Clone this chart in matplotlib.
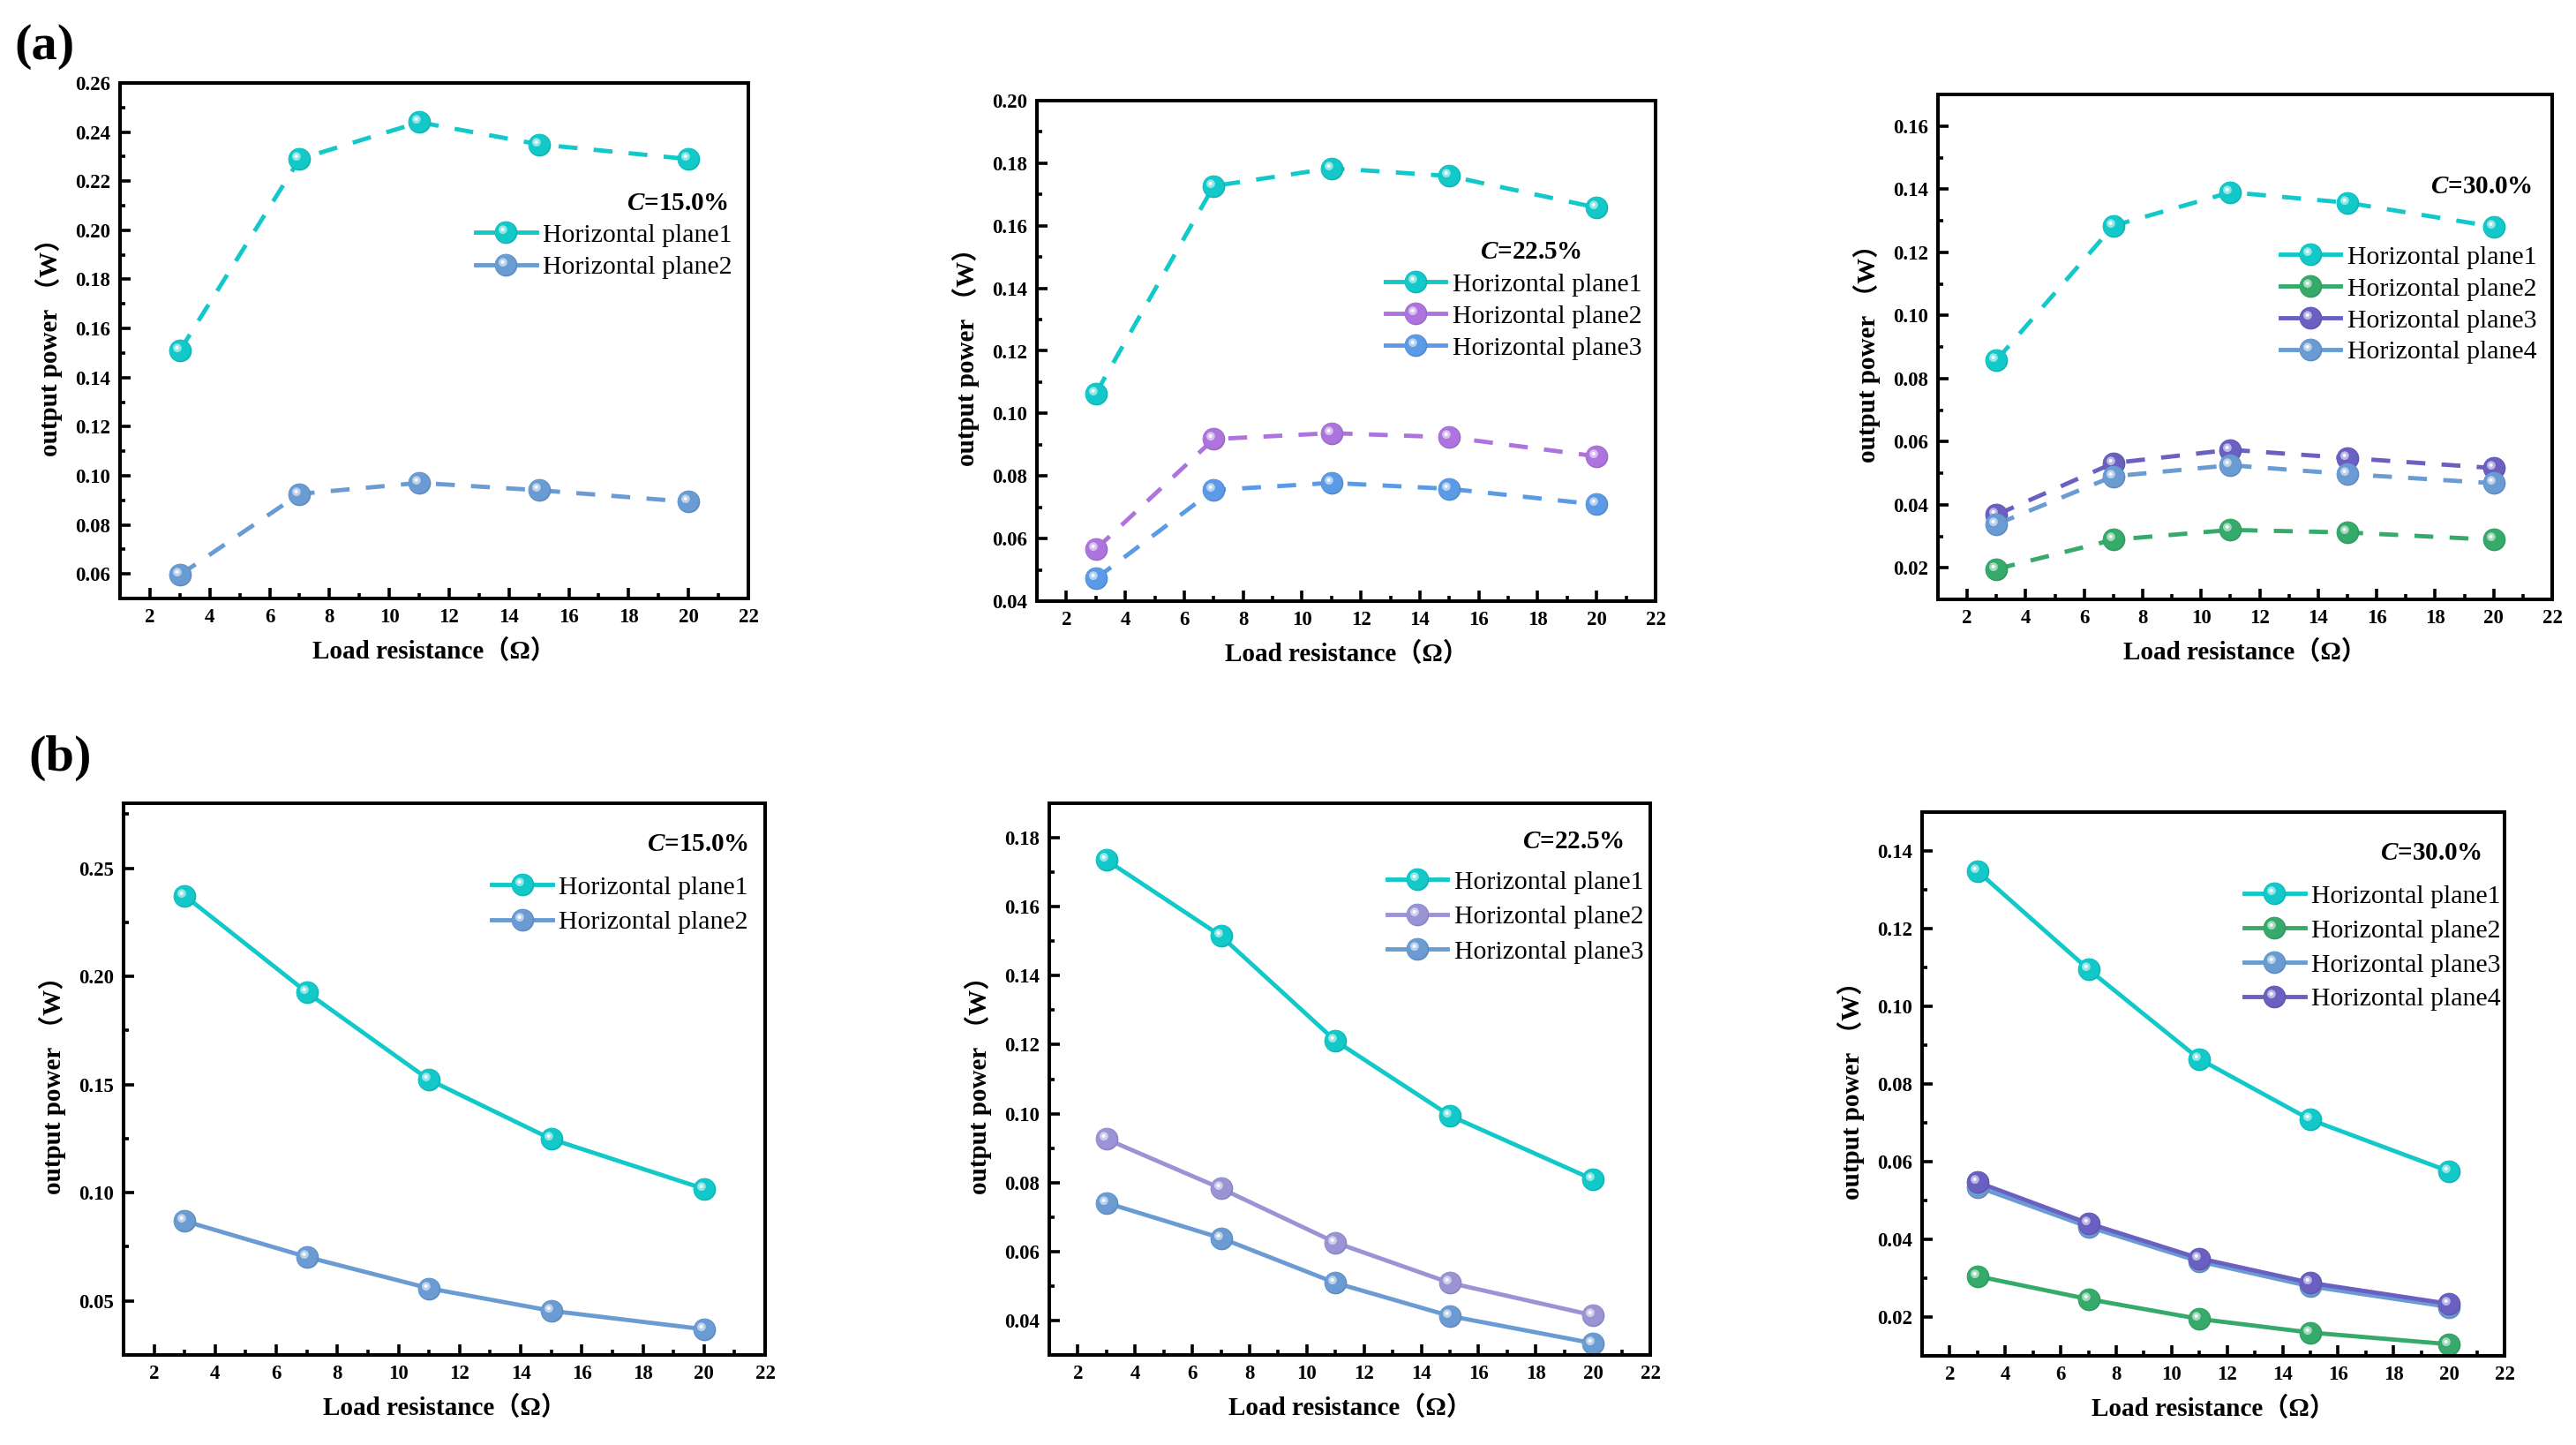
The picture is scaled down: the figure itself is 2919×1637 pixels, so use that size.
'''
Output power vs load resistance for the horizontal planes, (a) and (b) rows.
'''

import numpy as np
import matplotlib
matplotlib.use('Agg')
import matplotlib.pyplot as plt
from matplotlib.path import Path
from matplotlib.lines import Line2D
from matplotlib.colors import to_rgb
from matplotlib.legend_handler import HandlerTuple
from matplotlib.ticker import MultipleLocator, FormatStrFormatter

plt.rcParams['font.family'] = ['Liberation Serif', 'Noto Sans CJK SC', 'DejaVu Sans']
plt.rcParams['mathtext.fontset'] = 'custom'
plt.rcParams['mathtext.it'] = 'Liberation Serif:italic:bold'
plt.rcParams['mathtext.rm'] = 'Liberation Serif:bold'

# ---- data ----
load = [3, 7, 11, 15, 20]

a15_p1 = [0.151, 0.229, 0.244, 0.235, 0.229]
a15_p2 = [0.0596, 0.0926, 0.0971, 0.0941, 0.0894]

a22_p1 = [0.1064, 0.1727, 0.1784, 0.1759, 0.1658]
a22_p2 = [0.0566, 0.0918, 0.0937, 0.0924, 0.0863]
a22_p3 = [0.0472, 0.0755, 0.0778, 0.0759, 0.0709]

a30_p1 = [0.0858, 0.1284, 0.1390, 0.1357, 0.1281]
a30_p2 = [0.0196, 0.0289, 0.0320, 0.0312, 0.0289]
a30_p3 = [0.0368, 0.0532, 0.0574, 0.0548, 0.0516]
a30_p4 = [0.0338, 0.0490, 0.0525, 0.0497, 0.0468]

b15_p1 = [0.2373, 0.1926, 0.1522, 0.1248, 0.1018]
b15_p2 = [0.0869, 0.0703, 0.0558, 0.0454, 0.0369]

b22_p1 = [0.1735, 0.1515, 0.1211, 0.0994, 0.0809]
b22_p2 = [0.0926, 0.0783, 0.0626, 0.0509, 0.0415]
b22_p3 = [0.0741, 0.0639, 0.0509, 0.0413, 0.0334]

b30_p1 = [0.1348, 0.1095, 0.0864, 0.0708, 0.0575]
b30_p2 = [0.0305, 0.0246, 0.0195, 0.0160, 0.0130]
b30_p3 = [0.0535, 0.0432, 0.0343, 0.0279, 0.0226]
b30_p4 = [0.0547, 0.0441, 0.0351, 0.0288, 0.0234]

labels = ['Horizontal plane1', 'Horizontal plane2', 'Horizontal plane3', 'Horizontal plane4']
conc = ['15.0', '22.5', '30.0']

cyan = '#12c8c8'
steel = '#6a9bd2'
violet = '#ad74dd'
sky = '#5a9ae6'
green = '#36aa6b'
indigo = '#6a60c2'
lavender = '#9a94d4'

W, H = 2919, 1637
MS = 18.5


def lighten(c, f):
    rgb = np.array(to_rgb(c))
    return tuple(rgb + (1 - rgb) * f)


def darken(c, f):
    return tuple(np.array(to_rgb(c)) * f)


def spot(cx, cy, r):
    # small circle inside the unit marker box, so it sits off-centre on the ball
    c = Path.circle((cx, cy), r)
    verts = np.vstack([[[-1, -1], [1, 1]], c.vertices])
    codes = np.concatenate([[Path.MOVETO, Path.MOVETO], c.codes])
    return Path(verts, codes)


SHADE = spot(-0.05, 0.05, 0.93)
GLOW = spot(-0.28, 0.26, 0.38)
SHINE = spot(-0.3, 0.28, 0.16)


def ball_layers(color):
    return [dict(marker=SHADE, mfc=color),
            dict(marker=GLOW, mfc=lighten(color, 0.55)),
            dict(marker=SHINE, mfc=lighten(color, 0.95))]


def ball_series(ax, x, y, color, dashed):
    kw = dict(lw=3.5, color=color, marker='o', ms=MS, mfc=darken(color, 0.9), mew=0)
    style = (0, (4.4, 3.8)) if dashed else '-'
    ax.plot(x, y, ls=style, **kw)
    for lay in ball_layers(color):
        ax.plot(x, y, ls='none', ms=MS, mew=0, **lay)
    # legend proxy: solid stroke with the ball in the middle
    proxy = [Line2D([], [], ls='-', **kw)]
    for lay in ball_layers(color):
        proxy.append(Line2D([], [], ls='none', ms=MS, mew=0, **lay))
    return tuple(proxy)


def panel(box, ylim, ystep, series, dashed, ctext, cpos, legx, legrow, rowgap):
    L, R, T, B = box
    ax = fig.add_axes([L / W, 1 - B / H, (R - L) / W, (B - T) / H])
    handles = []
    for vals, col in series:
        handles.append(ball_series(ax, load, vals, col, dashed))

    ax.set_xlim(1, 22)
    ax.set_ylim(*ylim)
    ax.xaxis.set_major_locator(MultipleLocator(2))
    ax.xaxis.set_minor_locator(MultipleLocator(1))
    ax.yaxis.set_major_locator(MultipleLocator(ystep))
    ax.yaxis.set_minor_locator(MultipleLocator(ystep / 2))
    ax.yaxis.set_major_formatter(FormatStrFormatter('%.2f'))
    ax.tick_params(which='both', direction='in', top=False, right=False)
    ax.tick_params(which='major', length=8.5, width=2.6, labelsize=16.5, pad=8)
    ax.tick_params(which='minor', length=4.5, width=2.6)
    for lab in ax.get_xticklabels() + ax.get_yticklabels():
        lab.set_fontweight('bold')
    for sp in ax.spines.values():
        sp.set_linewidth(2.9)

    ax.set_xlabel('Load resistance（Ω）', fontsize=21, fontweight='bold', labelpad=10)
    ax.set_ylabel('output power （W）', fontsize=21, fontweight='bold', labelpad=10)

    ax.text(cpos[0], cpos[1], r'$\mathit{C}$=' + ctext + '%', transform=ax.transAxes,
            ha='right', va='center', fontsize=21, fontweight='bold')

    ytop = 1 - (legrow - 17 - T) / (B - T)
    ax.legend(handles, labels[:len(series)], handler_map={tuple: HandlerTuple(ndivide=1)},
              loc='upper left', bbox_to_anchor=(legx, ytop), borderaxespad=0, borderpad=0,
              frameon=False, fontsize=21.5, handlelength=2.3, handletextpad=0.25,
              labelspacing=rowgap)
    return ax


fig = plt.figure(figsize=(W / 100, H / 100), dpi=100)

panel((136, 848, 94, 678), (0.05, 0.26), 0.02,
      [(a15_p1, cyan), (a15_p2, steel)], True,
      conc[0], (0.968, 0.767), 0.566, 270, 0.32)
panel((1175, 1876, 114, 681), (0.04, 0.20), 0.02,
      [(a22_p1, cyan), (a22_p2, violet), (a22_p3, sky)], True,
      conc[1], (0.880, 0.698), 0.563, 326, 0.3)
panel((2196, 2892, 107, 679), (0.01, 0.17), 0.02,
      [(a30_p1, cyan), (a30_p2, green), (a30_p3, indigo), (a30_p4, steel)], True,
      conc[2], (0.967, 0.818), 0.557, 295, 0.3)

panel((140, 867, 910, 1535), (0.025, 0.28), 0.05,
      [(b15_p1, cyan), (b15_p2, steel)], False,
      conc[0], (0.975, 0.925), 0.574, 1009, 0.42)
panel((1189, 1870, 910, 1535), (0.03, 0.19), 0.02,
      [(b22_p1, cyan), (b22_p2, lavender), (b22_p3, steel)], False,
      conc[1], (0.956, 0.930), 0.562, 1003, 0.42)
panel((2178, 2838, 920, 1536), (0.01, 0.15), 0.02,
      [(b30_p1, cyan), (b30_p2, green), (b30_p3, steel), (b30_p4, indigo)], False,
      conc[2], (0.961, 0.925), 0.553, 1019, 0.4)

fig.text(51 / W, 1 - 53 / H, '(a)', fontsize=42, fontweight='bold', ha='center', va='center')
fig.text(68 / W, 1 - 859 / H, '(b)', fontsize=42, fontweight='bold', ha='center', va='center')

fig.savefig('out.png', dpi=100)
